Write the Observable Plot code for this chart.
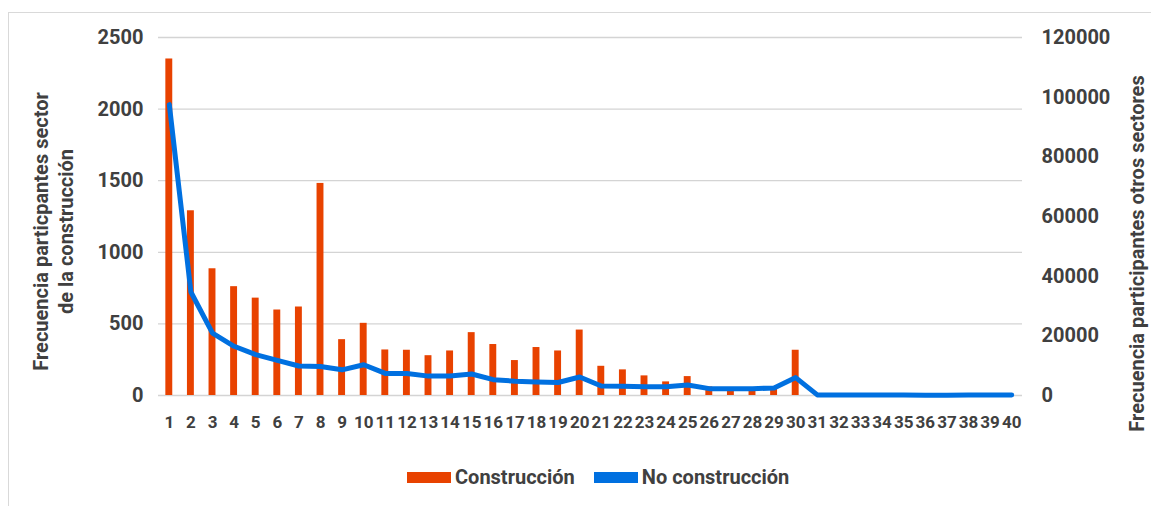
<!DOCTYPE html>
<html>
<head>
<meta charset="utf-8">
<script src="https://cdn.jsdelivr.net/npm/d3@7"></script>
<script src="https://cdn.jsdelivr.net/npm/@observablehq/plot@0.6"></script>
<style>
  html, body { margin: 0; padding: 0; background: #fff; overflow: hidden; }
  body { width: 1151px; height: 506px; position: relative; font-family: Roboto, "Noto Sans", sans-serif; }
  #frame { position: absolute; left: 8px; top: 12px; width: 1200px; height: 600px;
           border-left: 1.5px solid #d9d9d9; border-top: 1.5px solid #d9d9d9; }
  #chart { position: absolute; left: 0; top: 0; }
  #legend { position: absolute; left: 407px; top: 465px; display: flex; align-items: center;
            font-weight: bold; font-size: 20px; color: #404040; }
  .sw { width: 44px; height: 11px; display: inline-block; margin-right: 4px; }
  .item { display: flex; align-items: center; margin-right: 19px; }
</style>
</head>
<body>
<div id="frame"></div>
<div id="chart"></div>
<div id="legend"></div>
<script>
const categories = d3.range(1, 41);
const construccion = [2350,1290,885,760,680,597,618,1481,390,504,318,316,278,311,439,356,244,335,311,457,204,179,137,95,132,60,45,40,45,316,0,0,0,0,0,0,0,0,0,0];
const noConstruccion = [97500,34700,20900,16500,13700,11800,9900,9700,8600,10300,7400,7400,6500,6500,7200,5300,4800,4550,4350,6200,3200,3100,2900,2900,3500,2300,2300,2300,2500,6000,200,200,200,200,150,50,50,200,150,200];
const leftTicks = [0,500,1000,1500,2000,2500];
const rightTicks = [0,20000,40000,60000,80000,100000,120000];
const seriesNames = ["Construcción", "No construcción"];
const colors = ["#e84200", "#0070e0"];

const leftMax = 2500, rightMax = 120000;
const k = leftMax / rightMax;
const data = categories.map((c, i) => ({cat: c, c: construccion[i], n: noConstruccion[i]}));

const textColor = "#404040";
const plot = Plot.plot({
  width: 1151,
  height: 440,
  marginLeft: 158,
  marginRight: 129,
  marginTop: 37,
  marginBottom: 45,
  style: {fontFamily: "Roboto, sans-serif", background: "transparent", overflow: "visible"},
  x: {type: "band", domain: categories, paddingInner: 0.68, paddingOuter: 0.34, round: false, label: null},
  y: {domain: [0, leftMax], label: null},
  marks: [
    Plot.gridY(leftTicks, {stroke: "#d4d4d4", strokeOpacity: 1, strokeWidth: 1.3}),
    Plot.barY(data, {x: "cat", y: "c", fill: colors[0]}),
    Plot.line(data, {x: "cat", y: d => d.n * k, stroke: colors[1], strokeWidth: 5, strokeLinejoin: "round", strokeLinecap: "round"}),
    Plot.axisX({tickSize: 0, tickPadding: 20, fontSize: 17, fontWeight: "bold", fill: textColor, label: null}),
    Plot.axisY({ticks: leftTicks, tickFormat: d => String(d), tickSize: 0, tickPadding: 15, fontSize: 20, fontWeight: "bold", fill: textColor, label: null}),
    Plot.axisY({anchor: "right", ticks: rightTicks.map(t => t * k), tickFormat: d => String(Math.round(d / k)),
                tickSize: 0, tickPadding: 19, fontSize: 20, fontWeight: "bold", fill: textColor, label: null}),
    Plot.text([0], {frameAnchor: "left", text: () => "Frecuencia particpantes sector\nde la construcción",
                    rotate: -90, dx: -106, dy: 15, fontSize: 20, fontWeight: "bold", fill: textColor,
                    textAnchor: "middle", lineAnchor: "middle", lineHeight: 1.25}),
    Plot.text([0], {frameAnchor: "right", text: () => "Frecuencia participantes otros sectores",
                    rotate: -90, dx: 115, dy: 37, fontSize: 20, fontWeight: "bold", fill: textColor,
                    textAnchor: "middle", lineAnchor: "middle"})
  ]
});
document.getElementById("chart").appendChild(plot);

const legend = document.getElementById("legend");
seriesNames.forEach((name, i) => {
  const item = document.createElement("div");
  item.className = "item";
  const sw = document.createElement("span");
  sw.className = "sw";
  sw.style.background = colors[i];
  const t = document.createElement("span");
  t.textContent = name;
  item.appendChild(sw);
  item.appendChild(t);
  legend.appendChild(item);
});
</script>
</body>
</html>
